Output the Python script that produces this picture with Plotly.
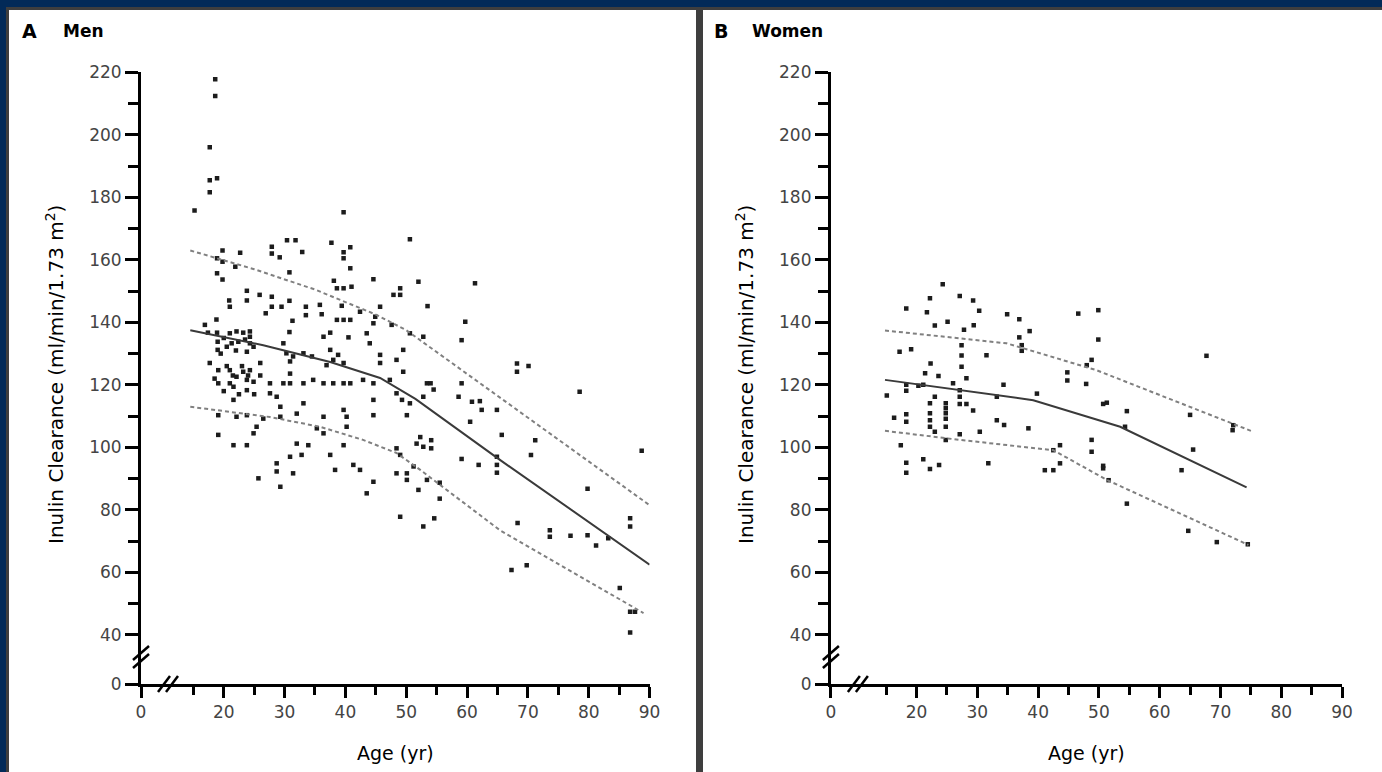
import plotly.graph_objects as go

# ---------------- data ----------------
men_age = [18.6, 18.6, 17.7, 17.7, 18.9, 17.7, 15.2, 39.7, 50.6, 30.4, 31.8, 37.7, 19.8, 22.7, 27.9, 27.9, 29.2,
           32.9, 39.7, 40.8, 39.7, 40.8, 18.9, 19.8, 21.9, 18.9, 19.8, 30.8, 44.6, 38.1, 38.6, 39.7, 41.0, 52.0,
           23.8, 20.9, 23.8, 25.9, 27.9, 27.9, 29.5, 21.0, 26.9, 30.8, 33.5, 33.5, 35.8, 36.1, 39.4, 42.4, 45.7,
           44.9, 49.0, 47.9, 49.0, 53.5, 31.3, 38.6, 39.7, 40.8, 44.6, 47.6, 18.8, 16.9, 17.4, 18.9, 21.0, 22.1,
           23.2, 24.3, 24.3, 30.8, 36.4, 37.5, 40.5, 43.5, 50.6, 52.8,
           19.0, 19.0, 20.5, 21.3, 22.4, 24.3, 23.8, 24.9, 29.8, 30.3, 31.4, 30.9, 33.1, 34.5, 37.5, 38.0, 38.8,
           39.7, 36.9, 44.0, 45.7, 45.7, 48.4, 49.5, 49.5,
           17.7, 19.1, 21.0, 22.1, 23.2, 24.3, 23.8, 24.9, 21.0, 19.1, 21.6, 23.8, 21.6,
           27.6, 27.6, 28.7, 29.8, 30.9, 30.9, 33.1, 34.7, 36.4, 38.0, 39.7, 40.8, 42.9, 44.6, 47.3, 48.4, 49.3,
           50.6, 52.8,
           29.3, 29.3, 32.0, 33.1, 36.4, 39.7, 40.2, 40.2, 44.6, 44.6, 50.1, 53.4,
           19.1, 22.1, 23.8, 25.4, 26.5,
           19.1, 24.9, 21.6, 23.8, 32.0, 33.9, 39.7, 36.4, 35.3,
           30.9, 32.8, 28.7, 28.7, 31.4, 25.7, 29.3, 37.5, 38.3, 41.3, 42.4, 44.6, 43.5,
           48.4, 49.0, 48.4, 50.1, 50.1, 51.2, 52.3, 51.7, 52.8, 53.4, 52.0, 49.0, 52.8,
           19.5, 20.5, 22.0, 23.0, 21.5, 24.0, 20.0, 22.5, 25.0, 18.5, 23.5, 20.0, 26.0, 26.0,
           59.7, 59.1, 68.2, 68.2, 70.1, 78.5, 59.1, 58.6, 60.8, 62.1, 62.4, 64.9, 60.5, 54.0, 54.5, 65.7,
           71.2, 70.5, 88.7, 64.9, 64.9, 64.9, 59.1, 61.9, 54.1, 54.1, 55.5, 55.5, 54.6, 79.8, 68.3, 73.6,
           73.6, 77.0, 79.8, 81.2, 83.2, 86.8, 86.8, 67.3, 69.8, 85.1, 86.8, 87.6, 86.8, 61.3]
men_gfr = [217.8, 212.4, 196.0, 185.5, 186.1, 181.6, 175.8, 175.2, 166.6, 166.3, 166.3, 165.5, 163.0, 162.3, 164.2,
           162.0, 160.8, 162.5, 162.4, 164.0, 160.5, 157.3, 160.5, 159.4, 157.8, 155.7, 153.7, 156.0, 153.8,
           153.3, 150.9, 150.9, 151.4, 153.0, 150.1, 147.0, 147.0, 148.8, 148.2, 145.0, 145.0, 145.0, 142.9,
           146.9, 145.0, 142.3, 145.6, 142.6, 145.3, 143.4, 145.0, 141.8, 150.9, 148.8, 148.8, 145.2, 140.5,
           140.8, 140.8, 140.8, 139.7, 139.2, 140.9, 139.2, 136.7, 136.7, 136.5, 137.1, 136.7, 137.1, 135.4,
           136.9, 135.4, 136.7, 135.2, 136.5, 136.5, 135.4,
           133.8, 131.2, 132.2, 133.3, 133.8, 133.3, 130.6, 132.2, 133.3, 130.1, 129.1, 127.5, 130.1, 129.1,
           131.2, 128.0, 129.6, 127.0, 126.3, 133.3, 129.6, 127.0, 128.0, 131.2, 124.2,
           127.0, 124.7, 124.7, 122.6, 124.2, 124.7, 121.6, 121.0, 120.5, 120.5, 119.4, 118.3, 115.2,
           120.5, 117.3, 116.2, 120.5, 123.6, 120.5, 120.5, 121.6, 120.5, 120.5, 120.5, 120.5, 121.6, 120.5,
           121.6, 117.3, 115.2, 114.1, 116.2,
           113.0, 109.8, 110.8, 114.1, 109.8, 112.0, 109.8, 106.6, 115.2, 110.3, 110.3, 120.5,
           110.3, 109.8, 110.3, 106.6, 109.2,
           104.0, 104.5, 100.7, 100.7, 101.2, 100.7, 100.7, 104.5, 106.1,
           97.0, 97.6, 94.9, 92.3, 91.7, 90.1, 87.4, 97.6, 92.8, 94.4, 92.8, 89.0, 85.3,
           99.7, 97.6, 91.7, 91.7, 89.6, 93.9, 103.3, 101.2, 100.2, 89.6, 86.4, 77.8, 74.7,
           130.0, 126.0, 131.0, 126.0, 123.0, 123.0, 118.0, 117.0, 117.0, 122.0, 134.5, 135.0, 127.0, 123.0,
           140.2, 134.3, 126.8, 124.2, 126.0, 117.8, 120.5, 116.2, 114.6, 114.8, 112.0, 112.0, 108.2, 120.5,
           118.5, 104.0, 102.3, 97.6, 98.9, 97.0, 94.4, 91.9, 96.3, 94.4, 102.3, 99.7, 88.7, 83.6, 77.3, 86.8,
           75.8, 73.5, 71.4, 71.7, 71.9, 68.6, 70.9, 77.3, 74.7, 60.8, 62.3, 55.0, 47.4, 47.4, 40.8, 152.5]

men_fit_age = [14.5, 26.5, 37.5, 45.7, 51.5, 65.4, 90.0]
men_fit_mean = [137.5, 132.7, 127.3, 122.2, 115.5, 96.0, 62.5]
men_hi_age = [14.5, 25.0, 35.0, 40.0, 45.0, 50.0, 60.0, 70.0, 80.0, 90.0]
men_hi = [163.0, 157.0, 150.5, 146.5, 142.5, 137.5, 123.5, 109.5, 95.5, 81.5]
men_lo_age = [14.5, 27.6, 35.8, 42.9, 48.4, 52.3, 65.4, 89.0]
men_lo = [113.0, 109.7, 106.6, 102.4, 98.2, 92.8, 73.5, 47.0]

women_age = [24.3, 22.2, 27.1, 29.3, 30.3, 18.3, 21.7, 34.9, 36.9, 46.6, 49.9, 25.1, 23.0, 29.4, 27.8, 38.6,
             36.9, 37.3, 37.3, 49.9, 17.2, 19.1, 27.4, 27.4, 31.5, 27.4, 22.3, 48.8, 48.0, 67.7, 21.4, 23.6,
             28.2, 44.8, 44.8, 47.9, 15.1, 18.3, 18.3, 20.3, 21.1, 26.0, 27.1, 27.1, 27.1, 28.2, 29.3, 34.3,
             39.8, 33.2, 23.0, 22.2, 24.8, 24.8, 24.8, 24.8, 24.8, 22.2, 22.2, 22.2, 18.3, 18.3, 16.3, 51.3,
             50.7, 54.6, 33.2, 34.4, 38.4, 54.3, 65.0, 72.1, 72.0, 30.4, 27.1, 23.0, 24.8, 17.4, 43.6, 42.5,
             43.6, 48.8, 48.8, 50.7, 65.5, 63.6, 18.3, 18.3, 21.1, 22.2, 23.7, 31.8, 41.1, 42.5, 50.7, 51.6,
             54.6, 64.7, 69.4, 74.5]
women_gfr = [152.2, 147.7, 148.4, 147.0, 143.7, 144.4, 143.2, 142.6, 141.0, 142.8, 143.9, 140.2, 139.0, 139.1,
             137.6, 137.2, 135.2, 132.7, 130.9, 134.5, 130.6, 131.4, 132.7, 129.4, 129.5, 125.8, 126.8, 128.0,
             126.3, 129.3, 123.7, 122.8, 122.1, 124.0, 121.4, 120.3, 116.6, 120.0, 118.1, 119.7, 120.0, 120.5,
             118.3, 116.2, 113.9, 113.9, 111.8, 120.0, 117.2, 116.2, 116.2, 114.1, 114.1, 112.5, 110.9, 109.2,
             106.6, 110.9, 108.7, 106.6, 110.6, 108.2, 109.5, 114.3, 113.9, 111.6, 108.7, 107.2, 106.1, 106.6,
             110.4, 107.1, 105.5, 105.0, 104.2, 105.0, 102.4, 100.7, 100.7, 99.1, 94.9, 102.4, 98.6, 93.3,
             99.3, 92.7, 95.1, 91.9, 96.2, 93.1, 94.4, 94.9, 92.7, 92.7, 94.1, 89.5, 82.0, 73.3, 69.7, 69.0]

women_fit_age = [14.8, 27.1, 39.2, 53.5, 74.3]
women_fit_mean = [121.6, 118.3, 115.1, 106.6, 87.2]
women_hi_age = [14.8, 34.8, 49.6, 75.4]
women_hi = [137.4, 133.3, 124.7, 105.0]
women_lo_age = [14.8, 27.1, 42.5, 51.3, 74.6]
women_lo = [105.3, 102.4, 99.1, 89.6, 68.8]

x_tick_vals_L = [6.4, 20, 30, 40, 50, 60, 70, 80, 90]
x_tick_vals_R = [5.9, 20, 30, 40, 50, 60, 70, 80, 90]
x_tick_text = ["0", "20", "30", "40", "50", "60", "70", "80", "90"]
x_minor = [15, 25, 35, 45, 55, 65, 75, 85]
y_tick_vals = [24.3, 40, 60, 80, 100, 120, 140, 160, 180, 200, 220]
y_tick_text = ["0", "40", "60", "80", "100", "120", "140", "160", "180", "200", "220"]
y_minor = [50, 70, 90, 110, 130, 150, 170, 190, 210]

panel_titles = [("A", "Men"), ("B", "Women")]
y_title = "Inulin Clearance (ml/min/1.73 m<sup>2</sup>)"
x_title = "Age (yr)"

# ---------------- layout helpers ----------------
W, H = 1382, 772
def fx(p):
    return p / W
def fy(p):
    return 1 - p / H

NAVY = "#022a58"
GREY = "#3e3e3e"
FONT = "DejaVu Sans"

fig = go.Figure()

mk = dict(symbol="square", size=4.5, color="#1c1c1c", line=dict(width=0))
dash_line = dict(color="#808080", width=2, dash="4px,3px")
solid_line = dict(color="#3a3a3a", width=2)

fig.add_trace(go.Scatter(x=men_age, y=men_gfr, mode="markers", marker=mk, xaxis="x", yaxis="y", showlegend=False))
fig.add_trace(go.Scatter(x=men_hi_age, y=men_hi, mode="lines", line=dash_line, xaxis="x", yaxis="y", showlegend=False))
fig.add_trace(go.Scatter(x=men_lo_age, y=men_lo, mode="lines", line=dash_line, xaxis="x", yaxis="y", showlegend=False))
fig.add_trace(go.Scatter(x=men_fit_age, y=men_fit_mean, mode="lines", line=solid_line, xaxis="x", yaxis="y", showlegend=False))

fig.add_trace(go.Scatter(x=women_age, y=women_gfr, mode="markers", marker=mk, xaxis="x2", yaxis="y2", showlegend=False))
fig.add_trace(go.Scatter(x=women_hi_age, y=women_hi, mode="lines", line=dash_line, xaxis="x2", yaxis="y2", showlegend=False))
fig.add_trace(go.Scatter(x=women_lo_age, y=women_lo, mode="lines", line=dash_line, xaxis="x2", yaxis="y2", showlegend=False))
fig.add_trace(go.Scatter(x=women_fit_age, y=women_fit_mean, mode="lines", line=solid_line, xaxis="x2", yaxis="y2", showlegend=False))

tickfont = dict(family=FONT, size=17, color="#444444")
def xaxis(domain, rng, vals, anchor):
    return dict(domain=domain, range=rng, tickvals=vals, ticktext=x_tick_text, ticks="outside",
                ticklen=11, tickwidth=3, tickcolor="black", showline=True, linewidth=3, linecolor="black",
                showgrid=False, zeroline=False, tickfont=tickfont, anchor=anchor, fixedrange=True,
                automargin=False,
                minor=dict(tickvals=x_minor, ticks="outside", ticklen=8, tickwidth=3, tickcolor="black",
                           showgrid=False))
def yaxis(domain, anchor):
    return dict(domain=domain, range=[24.3, 220], tickvals=y_tick_vals, ticktext=y_tick_text,
                ticks="outside", ticklen=13, tickwidth=3, tickcolor="black", showline=True, linewidth=3,
                linecolor="black", showgrid=False, zeroline=False, tickfont=tickfont, anchor=anchor,
                fixedrange=True, automargin=False,
                minor=dict(tickvals=y_minor, ticks="outside", ticklen=10, tickwidth=3, tickcolor="black",
                           showgrid=False))

ydom = [fy(684), fy(72.3)]
fig.update_layout(
    width=W, height=H, margin=dict(l=0, r=0, t=0, b=0, pad=0), autosize=False,
    paper_bgcolor=NAVY, plot_bgcolor="rgba(0,0,0,0)",
    xaxis=xaxis([fx(141), fx(649.6)], [6.4, 90], x_tick_vals_L, "y"),
    yaxis=yaxis(ydom, "x"),
    xaxis2=xaxis([fx(830.9), fx(1342)], [5.9, 90], x_tick_vals_R, "y2"),
    yaxis2=yaxis(ydom, "x2"),
    font=dict(family=FONT, color="black"),
)

shapes = [
    dict(type="rect", xref="paper", yref="paper", x0=fx(6), x1=1, y0=0, y1=fy(7),
         fillcolor=GREY, line=dict(width=0), layer="below"),
    dict(type="rect", xref="paper", yref="paper", x0=fx(9), x1=fx(696), y0=0, y1=fy(10),
         fillcolor="white", line=dict(width=0), layer="below"),
    dict(type="rect", xref="paper", yref="paper", x0=fx(703), x1=1, y0=0, y1=fy(10),
         fillcolor="white", line=dict(width=0), layer="below"),
]
# axis-break marks
for x0 in (141, 830.9):
    for dy in (0, 8):
        shapes.append(dict(type="line", xref="paper", yref="paper",
                           x0=fx(x0 - 8), y0=fy(668 - dy), x1=fx(x0 + 8), y1=fy(654 - dy),
                           line=dict(color="black", width=2.5)))
    bx = x0 + 23
    for dx in (0, 8):
        shapes.append(dict(type="line", xref="paper", yref="paper",
                           x0=fx(bx + dx - 6), y0=fy(692), x1=fx(bx + dx + 6), y1=fy(676),
                           line=dict(color="black", width=2.5)))
fig.update_layout(shapes=shapes)

ann = []
for (letter, name), xl, xn, xt, xyt in zip(panel_titles, (20, 712), (61, 750), (395, 1086), (55, 745)):
    ann.append(dict(text="<b>%s</b>" % letter, x=fx(xl), y=fy(31), xref="paper", yref="paper",
                    xanchor="left", yanchor="middle", showarrow=False, font=dict(size=19, family=FONT)))
    ann.append(dict(text="<b>%s</b>" % name, x=fx(xn), y=fy(31), xref="paper", yref="paper",
                    xanchor="left", yanchor="middle", showarrow=False, font=dict(size=17, family=FONT)))
    ann.append(dict(text=x_title, x=fx(xt), y=fy(753), xref="paper", yref="paper",
                    xanchor="center", yanchor="middle", showarrow=False, font=dict(size=19, family=FONT)))
    ann.append(dict(text=y_title, x=fx(xyt), y=fy(375), xref="paper", yref="paper", textangle=-90,
                    xanchor="center", yanchor="middle", showarrow=False, font=dict(size=20, family=FONT)))
fig.update_layout(annotations=ann)

fig.write_html("out.html", config={"displayModeBar": False},
               post_script="document.body.style.margin='0px';document.body.style.overflow='hidden';")
